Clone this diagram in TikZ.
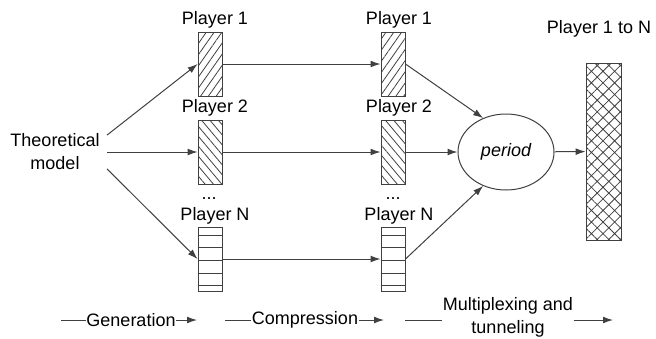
\documentclass[tikz,border=0pt]{standalone}
\usepackage{fontspec}
\setmainfont{Liberation Sans}
\usetikzlibrary{arrows.meta,patterns.meta,shapes.geometric}
\tikzset{
  arr/.style={-{Latex[length=5pt,width=3.4pt]}},
  buf/.style={draw, minimum width=12pt, minimum height=32pt, inner sep=0pt, pattern color=black!75},
  up/.style={pattern={Lines[angle=55,distance=3.2pt,line width=0.4pt]}},
  down/.style={pattern={Lines[angle=-50,distance=3.2pt,line width=0.4pt]}},
  lbl/.style={inner sep=0pt},
}
\begin{document}
\begin{tikzpicture}[x=0.5pt,y=-0.5pt,line width=0.5pt,draw=black!75,
    font=\fontsize{9}{11.5}\selectfont]
  \useasboundingbox (0,0) rectangle (656,338);
  \draw
    (55,152) node[align=center,inner sep=3.5pt] (tm){Theoretical\\model}
    (210,64) node[buf,up] (g1){}
    (210,152) node[buf,down] (g2){}
    (210,259) node[buf] (gN){}
    (393,64) node[buf,up] (c1){}
    (393,152) node[buf,down] (c2){}
    (393,259) node[buf] (cN){}
    (506,152) node[draw,ellipse,minimum width=48pt,minimum height=38pt] (per){\itshape period}
    (603.5,151.5) node[buf,minimum width=17.5pt,minimum height=88.5pt,
      pattern={Hatch[angle=45,distance=4.1pt,line width=0.4pt]}] (all){};
  % labels
  \draw
    (215,20) node[lbl] (lg1){Player 1}
    (215,108) node[lbl] (lg2){Player 2}
    (209,199) node[lbl] (lgd){...}
    (215,216) node[lbl] (lgN){Player N}
    (399,20) node[lbl] (lc1){Player 1}
    (399,108) node[lbl] (lc2){Player 2}
    (393,199) node[lbl] (lcd){...}
    (399,216) node[lbl] (lcN){Player N}
    (599,29) node[lbl] (lall){Player 1 to N};
  \foreach \y in {235,247,260,273,285} {
    \draw (gN.west |- 0,\y) -- (gN.east |- 0,\y);
    \draw (cN.west |- 0,\y) -- (cN.east |- 0,\y);
  }
  \begin{scope}[arr]
    \draw (tm.18) to (g1.west);
    \draw (tm.east) to (g2.west);
    \draw (tm.-18) to (gN.west);
    \draw (g1) to (c1);
    \draw (g2) to (c2);
    \draw (gN) to (cN);
    \draw (c1.east) to (per.124);
    \draw (c2.east) to (per.west);
    \draw (cN.east) to (per.-124);
    \draw (per) to (all);
  \end{scope}
  % stages
  \draw
    (131,320) node[lbl] (gen){Generation}
    (305,320) node[lbl] (comp){Compression}
    (508,317) node[lbl,align=center] (mux){Multiplexing and\\tunneling};
  \coordinate (gen0) at (61,320);
  \coordinate (gen1) at (197,320);
  \coordinate (comp0) at (225,320);
  \coordinate (comp1) at (384,320);
  \coordinate (mux0) at (405,320);
  \coordinate (mux1) at (613,320);
  \draw (gen0) -- (gen.west);
  \draw[arr] (gen.east) -- (gen1);
  \draw (comp0) -- (comp.west);
  \draw[arr] (comp.east) -- (comp1);
  \draw (mux0) -- (mux0 -| mux.west);
  \draw[arr] (mux0 -| mux.east) -- (mux1);
\end{tikzpicture}
\end{document}
